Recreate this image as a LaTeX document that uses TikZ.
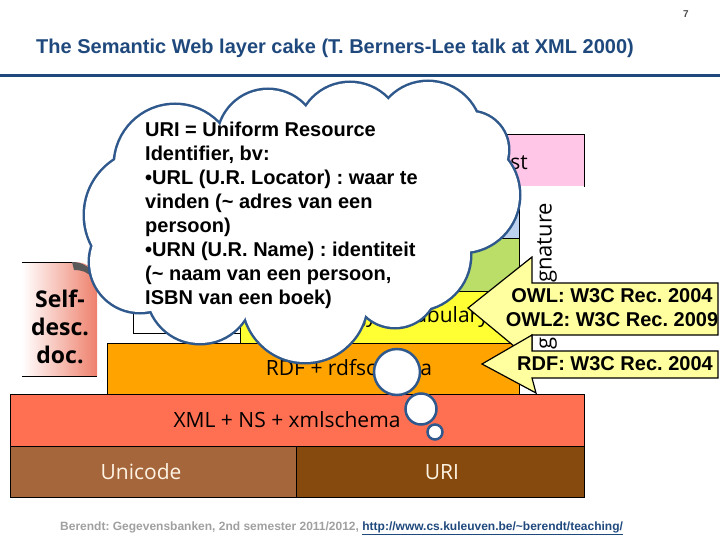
\documentclass[tikz,border=0pt]{standalone}
\usepackage{fontspec}
\setmainfont{Liberation Sans}
\newfontfamily\cakefont{Open Sans}

\definecolor{titleblue}{RGB}{31,73,125}
\definecolor{cloudblue}{RGB}{47,88,140}
\definecolor{trustC}{RGB}{255,198,232}
\definecolor{proofC}{RGB}{188,210,238}
\definecolor{logicC}{RGB}{186,222,104}
\definecolor{ontoC}{RGB}{255,255,51}
\definecolor{rdfC}{RGB}{255,163,0}
\definecolor{xmlC}{RGB}{255,112,82}
\definecolor{uniC}{RGB}{164,102,58}
\definecolor{uriC}{RGB}{134,74,14}
\definecolor{creamC}{RGB}{255,244,228}
\definecolor{noteC}{RGB}{255,255,160}
\definecolor{docC}{RGB}{238,128,108}
\definecolor{footgray}{RGB}{160,160,160}

\tikzset{
  layer/.style={draw=black, line width=0.8pt},
  cake/.style={font=\cakefont\fontsize{21}{25}\selectfont, inner sep=0pt},
  doctext/.style={font=\cakefont\bfseries\fontsize{23}{28}\selectfont, inner sep=0pt, align=center},
  puff/.style={draw=cloudblue, line width=2.5pt, fill=white},
  note/.style={draw=black, line width=1.2pt, fill=noteC, line join=miter},
  notetext/.style={font=\bfseries\fontsize{20}{24}\selectfont, align=center, inner sep=0pt},
}

\begin{document}
\frenchspacing
\begin{tikzpicture}[x=1pt, y=-1pt]
\useasboundingbox (0,0) rectangle (720,540);

\node[font=\bfseries\fontsize{10}{12}\selectfont, text=black!70] (pagenr) at (686,14) {7};
\node[font=\bfseries\fontsize{20}{24}\selectfont, text=titleblue, anchor=west, inner sep=0pt] (title) at (36,48) {The Semantic Web layer cake (T. Berners-Lee talk at XML 2000)};
\draw[titleblue, line width=3pt] (0,76) -- (720,76);

% the cake
\path[layer, fill=uniC] (10,446) rectangle (296,497);
\path[layer, fill=uriC] (296,446) rectangle (584,497);
\path[layer, fill=xmlC] (10,394) rectangle (584,446);
\path[layer, fill=rdfC] (107,343) rectangle (519,394);
\path[layer, fill=ontoC] (240,291) rectangle (519,343);
\path[layer, fill=logicC] (240,238) rectangle (519,291);
\path[layer, fill=proofC] (240,186) rectangle (519,238);
\path[layer, fill=trustC] (240,134) rectangle (584,186);
\fill[white] (519,186) rectangle (584,394);
\draw[layer] (519,186) -- (519,394);
\path[layer, fill=white] (133,291) rectangle (240,333);

\node[cake, text=creamC] (unicode) at (141,472) {Unicode};
\node[cake, text=creamC] (uri) at (442,472) {URI};
\node[cake] (xml) at (287,420) {XML + NS + xmlschema};
\node[cake] (rdf) at (349,368) {RDF + rdfschema};
\node[cake] (onto) at (388,317) {Ontology vocabulary};
\node[cake] (trust) at (503,162) {Trust};
\node[cake, font=\cakefont\fontsize{22}{26}\selectfont, rotate=90] (sign) at (546,287) {Digital Signature};

% self-describing document
\path[left color=white, right color=docC] (22,262) -- (74,262) .. controls (88,262) and (97,270) .. (97,282) -- (97,376) -- (22,376) -- cycle;
\draw[line width=0.8pt] (22,262) -- (74,262);
\draw[line width=0.8pt] (22,376) -- (97,376);
\fill[black!65] (72,262) .. controls (84,262) and (92,268) .. (92,278) .. controls (88,272) and (82,270) .. (74,270) -- cycle;
\node[doctext] (doc) at (60,327) {Self-\\desc.\\doc.};

% the cloud
\foreach \cx/\cy/\r in {150/215/65, 140/262/50, 175/165/60, 268/140/50, 350/135/52, 428/135/53, 470/150/38, 462/195/57, 415/255/55, 395/285/42, 305/300/62, 200/290/53}
  \draw[cloudblue, line width=5pt] (\cx,\cy) circle[radius=\r];
\fill[white] (150,215) -- (175,165) -- (268,140) -- (350,135) -- (428,135) -- (470,150) -- (462,195) -- (415,255) -- (395,285) -- (305,300) -- (200,290) -- (140,262) -- cycle;
\foreach \cx/\cy/\r in {150/215/65, 140/262/50, 175/165/60, 268/140/50, 350/135/52, 428/135/53, 470/150/38, 462/195/57, 415/255/55, 395/285/42, 305/300/62, 200/290/53}
  \fill[white] (\cx,\cy) circle[radius=\r];
\node[circle, puff, minimum size=46pt, inner sep=0pt] (bubA) at (397,372) {};
\node[circle, puff, minimum size=31pt, inner sep=0pt] (bubB) at (421,409) {};
\node[circle, puff, minimum size=15pt, inner sep=0pt] (bubC) at (435,432) {};
\node[anchor=north west, align=left, inner sep=0pt, font=\bfseries\fontsize{20}{24}\selectfont] (uritext) at (145,122)
  {URI = Uniform Resource\\Identifier, bv:\\•URL (U.R. Locator) : waar te\\vinden (\textasciitilde{} adres van een\\persoon)\\•URN (U.R. Name) : identiteit\\(\textasciitilde{} naam van een persoon,\\ISBN van een boek)};

% callouts
\draw[note] (718,283) -- (532,283) -- (532,257) -- (468,308) -- (532,361) -- (532,335) -- (718,335) -- cycle;
\node[notetext] (owl) at (612,308) {OWL: W3C Rec. 2004\\OWL2: W3C Rec. 2009};
\draw[note] (718,351) -- (532,351) -- (532,335) -- (482,364) -- (536,393) -- (532,378) -- (718,378) -- cycle;
\node[notetext] (rdfnote) at (615,364) {RDF: W3C Rec. 2004};

\node[anchor=west, inner sep=0pt, font=\bfseries\fontsize{12}{14}\selectfont] (footer) at (60,528)
  {\textcolor{footgray}{Berendt: Gegevensbanken, 2nd semester 2011/2012,} \textcolor{titleblue}{\underline{http://www.cs.kuleuven.be/\textasciitilde berendt/teaching/}}};
\end{tikzpicture}
\end{document}
